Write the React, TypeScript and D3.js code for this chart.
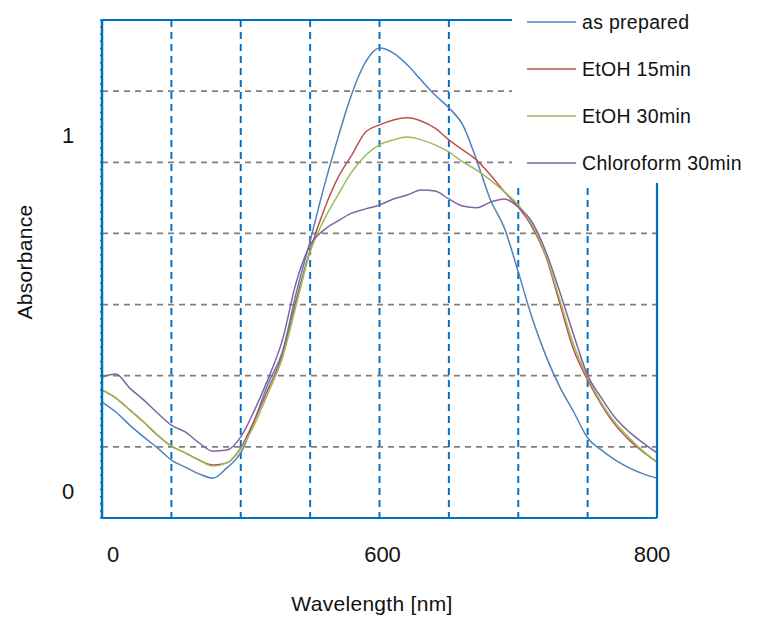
import * as d3 from "d3";

// wavelength samples (nm)
const wavelengths = d3.range(400, 801, 10);

const asPrepared = [
  0.326, 0.298, 0.261, 0.228, 0.197, 0.163, 0.143, 0.124, 0.112, 0.141, 0.183,
  0.276, 0.38, 0.467, 0.633, 0.779, 0.931, 1.068, 1.192, 1.282, 1.321, 1.307,
  1.274, 1.231, 1.189, 1.153, 1.105, 1.006, 0.894, 0.815, 0.692, 0.562, 0.455,
  0.368, 0.298, 0.225, 0.191, 0.163, 0.141, 0.124, 0.112,
];
const etoh15 = [
  0.36, 0.337, 0.304, 0.27, 0.233, 0.202, 0.183, 0.163, 0.149, 0.155, 0.197,
  0.276, 0.365, 0.458, 0.613, 0.753, 0.866, 0.956, 1.02, 1.085, 1.105, 1.119,
  1.125, 1.116, 1.096, 1.063, 1.035, 1.006, 0.964, 0.917, 0.874, 0.818, 0.734,
  0.602, 0.472, 0.388, 0.318, 0.261, 0.219, 0.186, 0.157,
];
const etoh30 = [
  0.36, 0.337, 0.304, 0.27, 0.233, 0.202, 0.183, 0.163, 0.146, 0.155, 0.194,
  0.264, 0.354, 0.45, 0.599, 0.748, 0.838, 0.908, 0.973, 1.02, 1.049, 1.063,
  1.071, 1.063, 1.049, 1.029, 1.001, 0.978, 0.95, 0.917, 0.88, 0.824, 0.737,
  0.613, 0.486, 0.396, 0.323, 0.267, 0.225, 0.188, 0.157,
];
const chloroform30 = [
  0.396, 0.405, 0.365, 0.332, 0.295, 0.261, 0.242, 0.211, 0.188, 0.191, 0.228,
  0.304, 0.394, 0.5, 0.663, 0.767, 0.81, 0.835, 0.857, 0.869, 0.88, 0.897,
  0.908, 0.922, 0.919, 0.897, 0.877, 0.872, 0.888, 0.897, 0.874, 0.832, 0.748,
  0.635, 0.514, 0.402, 0.337, 0.281, 0.242, 0.211, 0.183,
];

const seriesNames = ["as prepared", "EtOH 15min", "EtOH 30min", "Chloroform 30min"];
const seriesColors = ["#4f81bd", "#c0504d", "#9bbb59", "#8064a2"];
const seriesValues = [asPrepared, etoh15, etoh30, chloroform30];

const xTickValues = [400, 600, 800];
const xTickLabels = ["0", "600", "800"];
const yTickValues = [1, 0];
const yTickLabels = ["1", "0"];

const W = 757;
const H = 618;
const left = 102, right = 657, top = 20, bottom = 518;
const legendX = 512, legendBottom = 183;
const font = "Arial, 'Liberation Sans', sans-serif";
const axisBlue = "#0070c0";

export default function App() {
  const x = d3.scaleLinear().domain([400, 800]).range([left, right]);
  const y = d3.scaleLinear().domain([0, 1.4]).range([bottom, top]);

  const line = d3
    .line<number>()
    .x((_, i) => x(wavelengths[i]))
    .y((d) => y(d))
    .curve(d3.curveMonotoneX);

  const vGrid = d3.range(450, 800, 50);
  const hGrid = d3.range(0.2, 1.39, 0.2);
  const minorTicks = d3.range(0, 1.401, 0.02);
  const xTickDx = [11, 3, -5];

  return (
    <svg
      width={W}
      height={H}
      style={{ position: "absolute", left: 0, top: 0, background: "#fff" }}
      fontFamily={font}
    >
      {/* gridlines */}
      {hGrid.map((v) => (
        <line key={"h" + v} x1={left} x2={right} y1={y(v)} y2={y(v)}
          stroke="#808080" strokeWidth={1.8} strokeDasharray="6,5" />
      ))}
      {vGrid.map((v) => (
        <line key={"v" + v} x1={x(v)} x2={x(v)} y1={top} y2={bottom}
          stroke="#0a72c4" strokeWidth={2} strokeDasharray="7,5" />
      ))}

      {/* curves */}
      {seriesValues.map((vals, i) => (
        <path key={seriesNames[i]} d={line(vals) || ""} fill="none"
          stroke={seriesColors[i]} strokeWidth={1.5} />
      ))}

      {/* frame */}
      <line x1={left} x2={right} y1={bottom} y2={bottom} stroke={axisBlue} strokeWidth={2.2} />
      <line x1={right} x2={right} y1={top} y2={bottom} stroke={axisBlue} strokeWidth={2.2} />
      <line x1={left} x2={right} y1={top} y2={top} stroke={axisBlue} strokeWidth={2.2} />
      <line x1={left} x2={left} y1={top} y2={bottom} stroke={axisBlue} strokeWidth={2.5} />
      {minorTicks.map((v) => (
        <line key={"m" + v} x1={left - 2} x2={left} y1={y(v)} y2={y(v)}
          stroke={axisBlue} strokeWidth={1.5} />
      ))}

      {/* legend area */}
      <rect x={legendX} y={0} width={W - legendX} height={legendBottom} fill="#fff" />
      {seriesNames.map((name, i) => {
        const ly = 22 + i * 47;
        return (
          <g key={"lg" + name}>
            <line x1={527} x2={576} y1={ly} y2={ly} stroke={seriesColors[i]} strokeWidth={1.6} />
            <text x={582} y={ly + 7} fontSize={19.5} letterSpacing={0.3} fill="#111">{name}</text>
          </g>
        );
      })}

      {/* tick labels */}
      {xTickValues.map((v, i) => (
        <text key={"xt" + v} x={x(v) + xTickDx[i]} y={562} fontSize={22}
          textAnchor="middle" fill="#111">{xTickLabels[i]}</text>
      ))}
      {yTickValues.map((v, i) => (
        <text key={"yt" + v} x={68} y={y(v) - 27} fontSize={22}
          textAnchor="middle" dominantBaseline="central" fill="#111">{yTickLabels[i]}</text>
      ))}

      {/* axis titles */}
      <text x={372} y={611} fontSize={21} letterSpacing={0.3} textAnchor="middle" fill="#111">
        Wavelength [nm]
      </text>
      <text transform="translate(32,262) rotate(-90)" fontSize={21} letterSpacing={0.3}
        textAnchor="middle" fill="#111">
        Absorbance
      </text>
    </svg>
  );
}
